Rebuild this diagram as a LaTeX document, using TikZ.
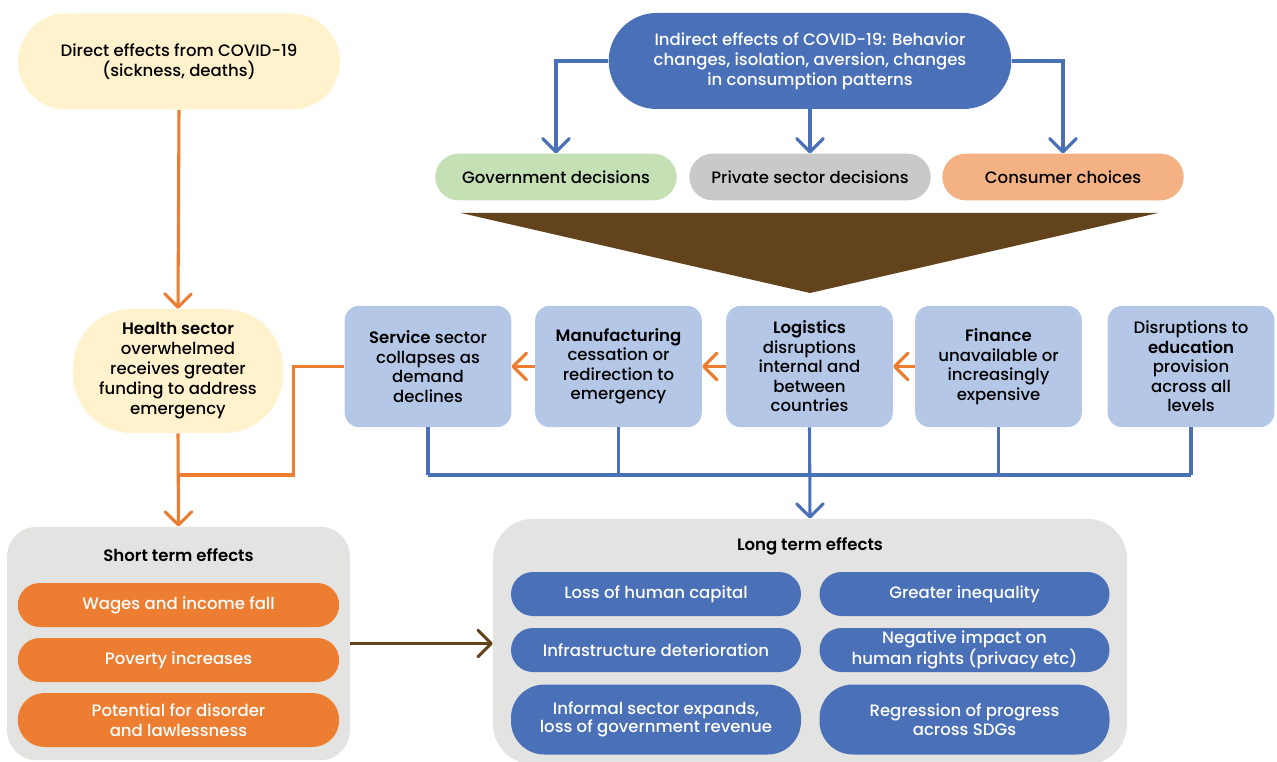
\documentclass[tikz,border=0pt]{standalone}
\usepackage{fontspec}
\setmainfont{Poppins}[UprightFont={* Medium},BoldFont={* SemiBold}]
\usetikzlibrary{arrows.meta,calc}

\definecolor{paleyellow}{HTML}{FFF2CC}
\definecolor{deepblue}{HTML}{4A70B7}
\definecolor{softgreen}{HTML}{C5E0B4}
\definecolor{softgray}{HTML}{C9C9C9}
\definecolor{softorange}{HTML}{F4B183}
\definecolor{wedgebrown}{HTML}{63431B}
\definecolor{paleblue}{HTML}{B4C7E7}
\definecolor{hotorange}{HTML}{ED7D31}
\definecolor{panelgray}{HTML}{E3E3E1}

\tikzset{
  vhead/.tip={Straight Barb[length=10pt,width=20pt,round]},
  bluelink/.style={draw=deepblue,line width=2.3pt},
  orangelink/.style={draw=hotorange,line width=2.3pt},
  pillbox/.style={align=center,inner sep=2pt,text=black},
  sectorbox/.style={pillbox,fill=paleblue,rounded corners=11pt,
    minimum width=125pt,minimum height=91pt,font=\fontsize{12.4}{14.6}\selectfont},
  decisionbox/.style={pillbox,rounded corners=17.5pt,minimum width=181pt,minimum height=35pt},
  shortbox/.style={pillbox,fill=hotorange,text=white,minimum width=241pt},
  longbox/.style={pillbox,fill=deepblue,text=white,minimum width=217.5pt,
    font=\fontsize{12.4}{13.8}\selectfont},
}

\begin{document}
\begin{tikzpicture}[x=0.75pt,y=-0.75pt,font=\fontsize{12.4}{15}\selectfont]
\useasboundingbox (0,0) rectangle (1277,762);

% top row
\node[pillbox,fill=paleyellow,minimum width=241.5pt,minimum height=72pt,rounded corners=36pt]
  (direct) at (179,61.5) {Direct effects from COVID-19\\(sickness, deaths)};
\node[pillbox,fill=deepblue,text=white,minimum width=302pt,minimum height=72pt,rounded corners=36pt]
  (indirect) at (810,61) {Indirect effects of COVID-19: Behavior\\changes, isolation, aversion, changes\\in consumption patterns};

% decisions
\node[decisionbox,fill=softgreen] (gov) at (556,177) {Government decisions};
\node[decisionbox,fill=softgray] (priv) at (810,177) {Private sector decisions};
\node[decisionbox,fill=softorange] (cons) at (1063,177) {Consumer choices};

\draw[bluelink,-vhead] (indirect.west) -| (gov.north);
\draw[bluelink,-vhead] (indirect.south) -- (priv.north);
\draw[bluelink,-vhead] (indirect.east) -| (cons.north);

% wedge
\fill[wedgebrown] (461,213) -- (1158,213) -- (810,293) -- cycle;

% sectors
\node[sectorbox] (serv) at (428,366.5) {\textbf{Service} sector\\collapses as\\demand\\declines};
\node[sectorbox] (manu) at (618.5,366.5) {\textbf{Manufacturing}\\cessation or\\redirection to\\emergency};
\node[sectorbox] (logi) at (809.5,366.5) {\textbf{Logistics}\\disruptions\\internal and\\between\\countries};
\node[sectorbox] (fin) at (998.5,366.5) {\textbf{Finance}\\unavailable or\\increasingly\\expensive};
\node[sectorbox] (edu) at (1191,366.5) {Disruptions to\\\textbf{education}\\provision\\across all\\levels};

\draw[orangelink,-vhead] (manu.west) -- (serv.east);
\draw[orangelink,-vhead] (logi.west) -- (manu.east);
\draw[orangelink,-vhead] (fin.west) -- (logi.east);

% health
\node[pillbox,fill=paleyellow,minimum width=157.5pt,minimum height=93pt,rounded corners=44pt]
  (health) at (178,371) {\textbf{Health sector}\\overwhelmed\\receives greater\\funding to address\\emergency};

% short term panel
\node[fill=panelgray,rounded corners=22pt,minimum width=257pt,minimum height=175pt] (short) at (178.5,643.5) {};
\node[font=\bfseries\fontsize{12.4}{15}\selectfont] (shorttitle) at (178.5,555) {Short term effects};
\node[shortbox,minimum height=33pt,rounded corners=16.5pt] (wages) at (178.5,605) {Wages and income fall};
\node[shortbox,minimum height=33pt,rounded corners=16.5pt] (poverty) at (178.5,660) {Poverty increases};
\node[shortbox,minimum height=40.5pt,rounded corners=20pt] (disorder) at (178.5,720) {Potential for disorder\\and lawlessness};

% long term panel
\node[fill=panelgray,rounded corners=30pt,minimum width=475.5pt,minimum height=184pt] (long) at (810,641.5) {};
\node[font=\bfseries\fontsize{12.4}{15}\selectfont] (longtitle) at (810,546) {Long term effects};
\node[longbox,minimum height=33pt,rounded corners=16.5pt] (capital) at (656,594) {Loss of human capital};
\node[longbox,minimum height=33pt,rounded corners=16.5pt] (inequal) at (964.5,594) {Greater inequality};
\node[longbox,minimum height=33pt,rounded corners=16.5pt] (infra) at (656,650) {Infrastructure deterioration};
\node[longbox,minimum height=33pt,rounded corners=16.5pt] (rights) at (964.5,650) {Negative impact on\\human rights (privacy etc)};
\node[longbox,minimum height=52.5pt,rounded corners=25pt] (informal) at (656,719.5) {Informal sector expands,\\loss of government revenue};
\node[longbox,minimum height=52.5pt,rounded corners=25pt] (sdgs) at (964.5,719.5) {Regression of progress\\across SDGs};

% orange flows on the left
\coordinate (merge) at (178,475);
\draw[orangelink,-vhead] (direct.south) -- (health.north);
\draw[orangelink,-vhead] (health.south) -- (short.north);
\draw[orangelink] (serv.west) -- ++(-51,0) |- (merge);

% blue bus to long term
\coordinate (bus) at (810,475);
\foreach \s in {serv,manu,fin,edu}
  \draw[bluelink] (\s.south) -- (\s.south |- bus);
\draw[bluelink] (serv.south |- bus) -- (edu.south |- bus);
\draw[bluelink,-vhead] (logi.south) -- (long.north);

% short to long
\draw[draw=wedgebrown,line width=2.3pt,-vhead] (short.east) -- (short.east -| long.west);
\end{tikzpicture}
\end{document}
